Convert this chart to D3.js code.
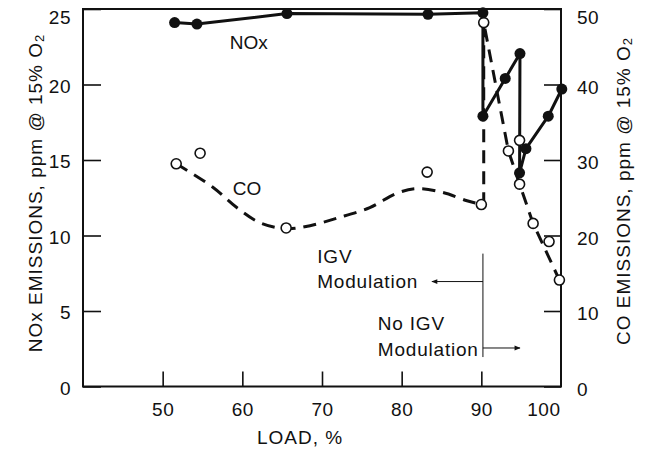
<!DOCTYPE html>
<html>
<head>
<meta charset="utf-8">
<script src="https://cdn.jsdelivr.net/npm/d3@7"></script>
<style>
  body { margin: 0; background: #fff; }
  svg text { font-family: "Liberation Sans", Arial, Helvetica, sans-serif; fill: #111; }
</style>
</head>
<body>
<div id="plot"></div>
<script>
// NOx emissions (filled dots, left axis), in the order the solid line joins them
const noxLoad = [51.5, 54.3, 65.6, 83.3, 90.2, 90.2, 93.0, 94.85, 94.8, 95.6, 98.4, 100.1];
const noxPpm  = [24.1, 24.0, 24.7, 24.65, 24.75, 17.9, 20.4, 22.05, 14.15, 15.75, 17.9, 19.7];

// CO emissions (open dots, right axis)
const coLoad = [51.7, 54.7, 65.5, 83.2, 90.0, 90.3, 93.4, 94.8, 94.8, 96.5, 98.5, 99.8];
const coPpm  = [29.5, 30.9, 21.0, 28.4, 24.1, 48.2, 31.2, 32.6, 26.8, 21.6, 19.2, 14.1];

// dashed CO trend: smooth part (IGV modulation) ...
const coTrendLoad = [51.7, 56.3, 59.3, 62.2, 65.5, 68.5, 71.9, 76.0, 79.4, 81.9, 85.2, 88.2, 90.0];
const coTrendPpm  = [29.5, 26.4, 23.7, 21.7, 20.9, 21.3, 22.3, 23.7, 25.6, 26.2, 25.7, 24.6, 24.1];
// ... and the straight part above 90 % load
const coJumpLoad = [90.0, 90.3, 90.3, 93.4, 94.8, 96.5, 99.8];
const coJumpPpm  = [24.1, 24.6, 48.2, 31.2, 26.8, 21.6, 14.1];

// axis ticks
const loadTicks = [50, 60, 70, 80, 90, 100];
const noxTicks = [0, 5, 10, 15, 20, 25];
const coTicks = [0, 10, 20, 30, 40, 50];

const width = 645, height = 454;
const fontSize = 19;

const svg = d3.select("#plot").append("svg")
    .attr("width", width)
    .attr("height", height);

const x = d3.scaleLinear().domain([40, 100]).range([83, 561]);
const yNox = d3.scaleLinear().domain([0, 25]).range([386.5, 9]);
const yCo = d3.scaleLinear().domain([0, 50]).range([386.5, 9]);

// frame
svg.append("rect")
    .attr("x", x(40))
    .attr("y", yNox(25))
    .attr("width", x(100) - x(40))
    .attr("height", yNox(0) - yNox(25))
    .attr("fill", "none")
    .attr("stroke", "#111")
    .attr("stroke-width", 2);

function styleAxis(g) {
    g.attr("font-size", fontSize)
        .attr("font-family", "Liberation Sans, Arial, sans-serif");
    g.select(".domain").remove();
    g.selectAll(".tick line").attr("stroke", "#111").attr("stroke-width", 1.6);
    g.selectAll(".tick text").attr("fill", "#111").attr("letter-spacing", 0.5);
}

// bottom axis, ticks pointing inward
const xAxis = svg.append("g")
    .attr("transform", `translate(0,${yNox(0)})`)
    .call(d3.axisBottom(x).tickValues(loadTicks).tickSize(-15).tickPadding(16).tickFormat(d3.format("d")))
    .call(styleAxis);
// no tick mark at 100, its label sits inside the right edge
xAxis.selectAll(".tick").filter(d => d === 100)
    .call(t => t.select("line").remove())
    .select("text").attr("text-anchor", "end").attr("x", -1);

// left axis (NOx)
const yAxisL = svg.append("g")
    .attr("transform", `translate(${x(40)},0)`)
    .call(d3.axisLeft(yNox).tickValues(noxTicks).tickSize(-18).tickPadding(12))
    .call(styleAxis);
yAxisL.selectAll(".tick text").attr("dy", d => d === 25 ? "0.75em" : "0.4em");

// right axis (CO)
const yAxisR = svg.append("g")
    .attr("transform", `translate(${x(100)},0)`)
    .call(d3.axisRight(yCo).tickValues(coTicks).tickSize(-17).tickPadding(16))
    .call(styleAxis);
yAxisR.selectAll(".tick text").attr("dy", d => d === 50 ? "0.75em" : "0.45em");

// axis titles
function titleWithSub(g, main) {
    const t = g.append("text")
        .attr("text-anchor", "middle")
        .attr("dominant-baseline", "central")
        .attr("font-size", fontSize)
        .attr("letter-spacing", 1);
    t.append("tspan").text(main);
    t.append("tspan").attr("font-size", 13).attr("dy", 4).text("2");
}
titleWithSub(svg.append("g").attr("transform", "translate(35,193) rotate(-90)"),
    "NOx EMISSIONS, ppm @ 15% O");
titleWithSub(svg.append("g").attr("transform", "translate(623,191) rotate(-90)"),
    "CO EMISSIONS, ppm @ 15% O");

svg.append("text")
    .attr("x", 300)
    .attr("y", 437)
    .attr("text-anchor", "middle")
    .attr("dominant-baseline", "central")
    .attr("font-size", fontSize)
    .attr("letter-spacing", 1)
    .text("LOAD, %");

// CO dashed trend
const coSmooth = d3.line()
    .x(i => x(coTrendLoad[i]))
    .y(i => yCo(coTrendPpm[i]))
    .curve(d3.curveCatmullRom.alpha(0.5));
svg.append("path")
    .attr("d", coSmooth(d3.range(coTrendLoad.length)))
    .attr("fill", "none")
    .attr("stroke", "#111")
    .attr("stroke-width", 3)
    .attr("stroke-dasharray", "13,8");

const coStraight = d3.line()
    .x(i => x(coJumpLoad[i]))
    .y(i => yCo(coJumpPpm[i]));
svg.append("path")
    .attr("d", coStraight(d3.range(coJumpLoad.length)))
    .attr("fill", "none")
    .attr("stroke", "#111")
    .attr("stroke-width", 3)
    .attr("stroke-dasharray", "13,8");

// NOx solid line
const noxLine = d3.line()
    .x(i => x(noxLoad[i]))
    .y(i => yNox(noxPpm[i]));
svg.append("path")
    .attr("d", noxLine(d3.range(noxLoad.length)))
    .attr("fill", "none")
    .attr("stroke", "#111")
    .attr("stroke-width", 3)
    .attr("stroke-linejoin", "round");

// open CO markers
svg.selectAll(".co-dot")
    .data(d3.range(coLoad.length))
    .enter()
    .append("circle")
    .attr("class", "co-dot")
    .attr("cx", i => x(coLoad[i]))
    .attr("cy", i => yCo(coPpm[i]))
    .attr("r", 5)
    .attr("fill", "#fff")
    .attr("stroke", "#111")
    .attr("stroke-width", 1.6);

// filled NOx markers
svg.selectAll(".nox-dot")
    .data(d3.range(noxLoad.length))
    .enter()
    .append("circle")
    .attr("class", "nox-dot")
    .attr("cx", i => x(noxLoad[i]))
    .attr("cy", i => yNox(noxPpm[i]))
    .attr("r", 5.5)
    .attr("fill", "#111");

// series labels
svg.append("text")
    .attr("x", x(60.8)).attr("y", yNox(22.36))
    .attr("text-anchor", "middle")
    .attr("font-size", fontSize)
    .text("NOx");
svg.append("text")
    .attr("x", x(60.6)).attr("y", yCo(25.4))
    .attr("text-anchor", "middle")
    .attr("font-size", fontSize)
    .text("CO");

// IGV modulation annotation
svg.append("defs").append("marker")
    .attr("id", "arrow")
    .attr("viewBox", "0 0 10 10")
    .attr("refX", 9).attr("refY", 5)
    .attr("markerWidth", 9).attr("markerHeight", 6)
    .attr("markerUnits", "userSpaceOnUse")
    .attr("orient", "auto")
    .append("path")
    .attr("d", "M0,1L10,5L0,9Z")
    .attr("fill", "#111");

svg.append("line")
    .attr("x1", x(90.2)).attr("x2", x(90.2))
    .attr("y1", yCo(17.6)).attr("y2", yCo(3.9))
    .attr("stroke", "#111").attr("stroke-width", 1);
svg.append("line")
    .attr("x1", x(90.2)).attr("x2", x(83.8))
    .attr("y1", yCo(13.9)).attr("y2", yCo(13.9))
    .attr("stroke", "#111").attr("stroke-width", 1)
    .attr("marker-end", "url(#arrow)");
svg.append("line")
    .attr("x1", x(90.2)).attr("x2", x(94.85))
    .attr("y1", yCo(5.1)).attr("y2", yCo(5.1))
    .attr("stroke", "#111").attr("stroke-width", 1)
    .attr("marker-end", "url(#arrow)");

const notes = [
    { t: "IGV", load: 69.4, co: 16.3 },
    { t: "Modulation", load: 69.4, co: 13.0 },
    { t: "No IGV", load: 77.0, co: 7.45 },
    { t: "Modulation", load: 77.0, co: 4.1 }
];
svg.selectAll(".note")
    .data(notes)
    .enter()
    .append("text")
    .attr("class", "note")
    .attr("x", d => x(d.load))
    .attr("y", d => yCo(d.co))
    .attr("font-size", fontSize)
    .attr("letter-spacing", 0.8)
    .text(d => d.t);
</script>
</body>
</html>
